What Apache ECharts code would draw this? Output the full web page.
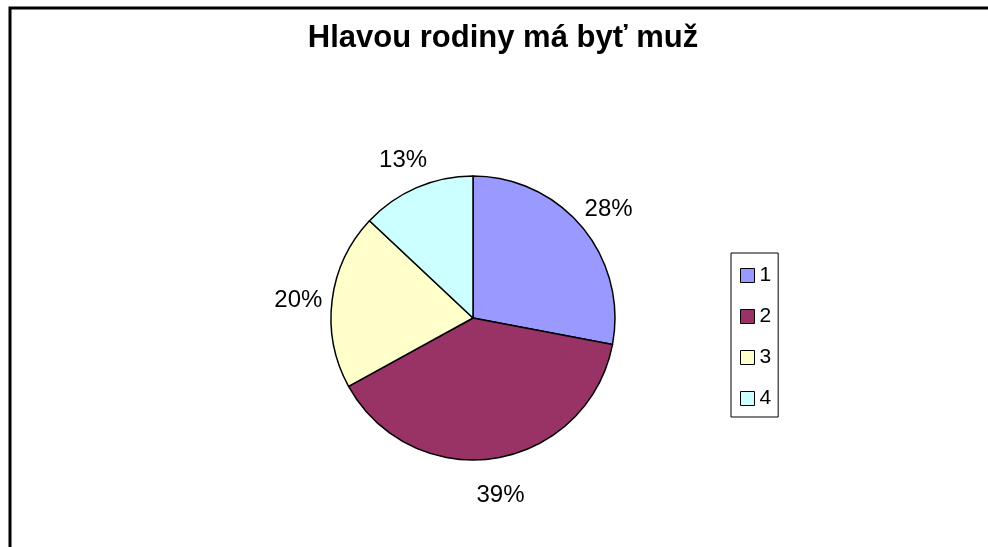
<!DOCTYPE html>
<html>
<head>
<meta charset="utf-8">
<script src="https://cdn.jsdelivr.net/npm/echarts@6/dist/echarts.min.js"></script>
<style>
  html, body { margin: 0; padding: 0; background: #fff; }
  #chart { width: 988px; height: 547px; }
</style>
</head>
<body>
<div id="chart"></div>
<script>
const categories = ['1', '2', '3', '4']
const shares = [28, 39, 20, 13]
const sliceColors = ['#9999FF', '#993366', '#FFFFCC', '#CCFFFF']

const font = 'Liberation Sans, Arial, sans-serif'
const chart = echarts.init(document.getElementById('chart'))

chart.setOption({
  backgroundColor: '#ffffff',
  animation: false,
  textStyle: { fontFamily: font },
  title: {
    text: 'Hlavou rodiny má byť muž',
    left: 498,
    textAlign: 'center',
    top: 18,
    textStyle: { fontFamily: font, fontSize: 31, fontWeight: 'bold', color: '#000' }
  },
  // frame of the chart area (only top and left edges are in view)
  graphic: [{
    type: 'rect',
    shape: { x: 10, y: 8, width: 1200, height: 800 },
    style: { fill: 'none', stroke: '#000', lineWidth: 3 },
    silent: true
  }],
  legend: {
    orient: 'vertical',
    left: 731,
    top: 253,
    padding: [12, 7, 8, 9],
    borderColor: '#000',
    borderWidth: 1,
    itemWidth: 14,
    itemHeight: 14,
    itemGap: 20,
    itemTextGap: 8,
    icon: 'rect',
    itemStyle: { borderColor: '#000', borderWidth: 1 },
    textStyle: { fontFamily: font, fontSize: 21, color: '#000' },
    data: categories
  },
  series: [
    {
      type: 'pie',
      center: [473, 318],
      radius: 142,
      startAngle: 90,
      clockwise: true,
      data: categories.map((c, i) => ({
        name: c,
        value: shares[i],
        itemStyle: { color: sliceColors[i] }
      })),
      itemStyle: { borderColor: '#000', borderWidth: 1.5 },
      label: { show: false },
      labelLine: { show: false },
      emphasis: { disabled: true }
    },
    // invisible ring that only carries the percentage labels
    {
      type: 'pie',
      center: [473, 318],
      radius: [0, 346],
      startAngle: 90,
      clockwise: true,
      silent: true,
      legendHoverLink: false,
      data: categories.map((c, i) => ({ name: c, value: shares[i] })),
      itemStyle: { color: 'rgba(255,255,255,0)', borderWidth: 0 },
      label: {
        show: true,
        position: 'inside',
        formatter: '{d}%',
        fontFamily: font,
        fontSize: 24,
        color: '#000',
        opacity: 1,
        offset: [0, 4]
      },
      labelLine: { show: false },
      emphasis: { disabled: true }
    }
  ]
})
</script>
</body>
</html>
